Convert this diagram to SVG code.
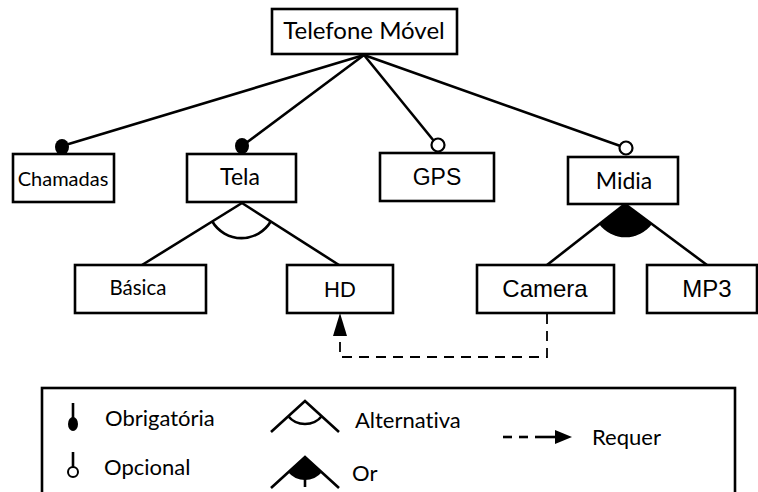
<svg xmlns="http://www.w3.org/2000/svg" width="758" height="492" viewBox="0 0 758 492">
<style>
.box{fill:#fff;stroke:#000;stroke-width:2.6}
.ln{stroke:#000;stroke-width:2.6;fill:none}
.c{font-family:Lato,"Open Sans",sans-serif;fill:#000;text-anchor:middle;font-variant-ligatures:none}
.a{font-family:"Liberation Sans",Arial,sans-serif;fill:#000;text-anchor:middle}
.lg{font-family:Lato,"Open Sans",sans-serif;fill:#000;font-size:22px;font-variant-ligatures:none}
.dash{stroke:#000;stroke-width:1.8;fill:none;stroke-dasharray:10 7}
</style>
<rect width="758" height="492" fill="#fff"/>
<g id="connectors">
<line class="ln" x1="364" y1="55" x2="62" y2="146"/>
<line class="ln" x1="364" y1="55" x2="242" y2="146"/>
<line class="ln" x1="364" y1="55" x2="438" y2="146"/>
<line class="ln" x1="364" y1="55" x2="626" y2="148"/>
<ellipse cx="62" cy="147" rx="7" ry="8" fill="#000"/>
<ellipse cx="242" cy="146" rx="7" ry="8" fill="#000"/>
<circle cx="438" cy="145" r="6.5" fill="#fff" stroke="#000" stroke-width="2.2"/>
<circle cx="626" cy="148" r="6.5" fill="#fff" stroke="#000" stroke-width="2.2"/>
<line class="ln" x1="242" y1="203" x2="142" y2="265"/>
<line class="ln" x1="242" y1="203" x2="339" y2="265"/>
<path class="ln" stroke-width="2" d="M212,221 A34,34 0 0 0 271,221"/>
<line class="ln" x1="625" y1="204" x2="547" y2="265"/>
<line class="ln" x1="625" y1="204" x2="707" y2="265"/>
<path d="M625,204 L599,224 A33,33 0 0 0 652,224 Z" fill="#000"/>
<path class="dash" d="M547,314 V357 H340 V336"/>
<polygon points="340,313 333,336 347,336" fill="#000"/>
</g>
<g id="n-root"><rect class="box" x="272" y="9" width="185" height="45"/><text class="c" x="364" y="39" font-size="24">Telefone Móvel</text></g>
<g id="n-chamadas"><rect class="box" x="13" y="154" width="101" height="48"/><text class="c" x="63" y="186" font-size="20">Chamadas</text></g>
<g id="n-tela"><rect class="box" x="187" y="154" width="109" height="48"/><text class="c" x="240" y="185" font-size="23">Tela</text></g>
<g id="n-gps"><rect class="box" x="380" y="153" width="114" height="48"/><text class="a" x="437" y="185" font-size="23">GPS</text></g>
<g id="n-midia"><rect class="box" x="568" y="157" width="110" height="47"/><text class="c" x="624" y="189" font-size="23">Midia</text></g>
<g id="n-basica"><rect class="box" x="75" y="265" width="131" height="48"/><text class="c" x="138" y="295" font-size="20.5">Básica</text></g>
<g id="n-hd"><rect class="box" x="287" y="265" width="106" height="48"/><text class="a" x="340" y="297" font-size="22">HD</text></g>
<g id="n-camera"><rect class="box" x="477" y="265" width="137" height="48"/><text class="a" x="545" y="297" font-size="24">Camera</text></g>
<g id="n-mp3"><rect class="box" x="647" y="265" width="110" height="48"/><text class="a" x="707" y="297" font-size="24">MP3</text></g>
<g id="legend">
<rect x="42" y="388" width="693" height="110" fill="none" stroke="#000" stroke-width="2.6"/>
<line class="ln" x1="73" y1="403" x2="73" y2="418"/>
<ellipse cx="73" cy="424" rx="5" ry="7" fill="#000"/>
<text class="lg" x="105" y="426">Obrigatória</text>
<line class="ln" x1="73" y1="452" x2="73" y2="467"/>
<circle cx="73" cy="472" r="5" fill="#fff" stroke="#000" stroke-width="2"/>
<text class="lg" x="104" y="475">Opcional</text>
<path class="ln" d="M271,432 L305,401 L339,432"/>
<path class="ln" stroke-width="2" d="M288,416 A22,22 0 0 0 322,416"/>
<text class="lg" x="355" y="428">Alternativa</text>
<path class="ln" d="M271,488 L305,457 L339,488"/>
<path d="M305,457 L288,472 A22,22 0 0 0 322,472 Z" fill="#000"/>
<line class="ln" x1="305" y1="476" x2="305" y2="487"/>
<text class="lg" x="352" y="481">Or</text>
<line x1="503" y1="437" x2="512" y2="437" stroke="#000" stroke-width="2.6"/>
<line x1="519" y1="437" x2="528" y2="437" stroke="#000" stroke-width="2.6"/>
<line x1="535" y1="437" x2="556" y2="437" stroke="#000" stroke-width="2.6"/>
<polygon points="572,437 555,430 555,444" fill="#000"/>
<text class="lg" x="592" y="445">Requer</text>
</g>
</svg>
